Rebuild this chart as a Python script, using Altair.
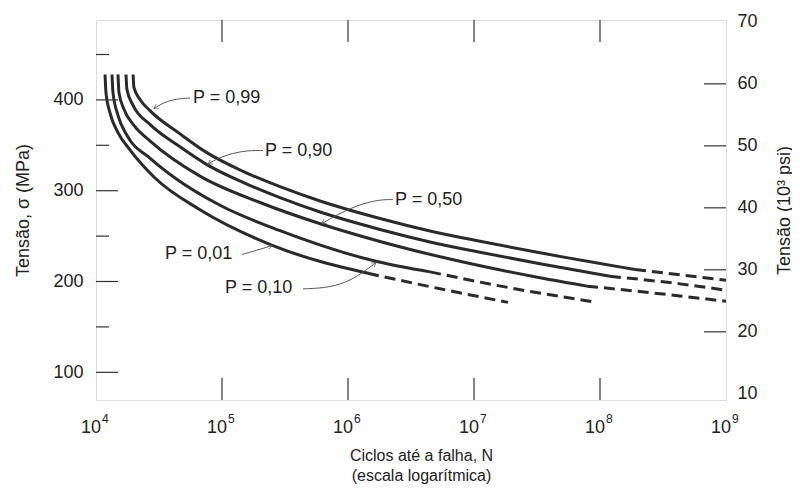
import altair as alt
import pandas as pd

FONT = "Liberation Sans, Arial, Helvetica, sans-serif"
W, H = 630, 380

# ---- S-N curves (N cycles, stress MPa); dash_k = index where dashed part starts
curve_names = ["P = 0,01", "P = 0,10", "P = 0,50", "P = 0,90", "P = 0,99"]

N_p01 = [11800, 12000, 12900, 14950, 18600, 29400, 66900, 254000, 1441000, 5370000, 18600000]
S_p01 = [428, 408, 386, 364, 345, 314, 279, 239.5, 209, 192, 177]

N_p10 = [13400, 13640, 14950, 17600, 26800, 42400, 96400, 288700, 1699000, 4476000, 19310000, 94670000]
S_p10 = [428, 408, 383, 361, 336, 314, 284, 256, 222, 210.6, 193, 177]

N_p50 = [14950, 15220, 16700, 20000, 26800, 66900, 200300, 610800, 1795000, 6448000, 33400000, 78850000, 431300000, 1e9]
S_p50 = [428, 408, 389.5, 372, 355, 316.1, 287.0, 263.3, 244.1, 224.7, 204.1, 194.9, 184.1, 178.2]

N_p90 = [17300, 17600, 19700, 26800, 46420, 74650, 146800, 288700, 599800, 1795000, 4476000, 11160000, 33400000, 120000000, 431300000, 1e9]
S_p90 = [428, 411.5, 394, 373, 348.3, 329.3, 309.1, 292.3, 276.5, 257.3, 243.6, 232.2, 219.5, 205.7, 197.4, 190.4]

N_p99 = [19700, 20000, 22350, 26800, 46420, 74650, 146800, 288700, 599800, 1795000, 4476000, 11160000, 33400000, 189600000, 431300000, 1e9]
S_p99 = [428, 413.7, 400.4, 388.2, 362.6, 342.5, 321.3, 304.4, 288.7, 269.4, 255.7, 244.3, 231.6, 213.2, 207.3, 201.4]

dash_k = [8, 9, 11, 13, 13]

# ---- axis tick values and labels
x_tick_vals = [1e4, 1e5, 1e6, 1e7, 1e8, 1e9]
x_tick_base = ["10", "10", "10", "10", "10", "10"]
x_tick_exp = ["4", "5", "6", "7", "8", "9"]
x_inner_ticks = [1e5, 1e6, 1e7, 1e8]
mpa_major = [100, 200, 300, 400]
mpa_minor = [150, 250, 350, 450]
ksi_labels = [10, 20, 30, 40, 50, 60, 70]
ksi_ticks = [20, 30, 40, 50, 60]

# ---- annotations
label_text = ["P = 0,99", "P = 0,90", "P = 0,50", "P = 0,01", "P = 0,10"]
label_N = [58900, 219500, 2360000, 35300, 105600]
label_S = [402, 344, 290, 230.5, 192.5]

lead_99_N = [55700, 43140, 34020, 28860]
lead_99_S = [402.1, 401.2, 396.9, 390.4]
lead_90_N = [211500, 160800, 120100, 92950, 77430]
lead_90_S = [344.2, 344.4, 341.2, 335.8, 329.3]
lead_50_N = [2276000, 1795000, 1245000, 864000, 621500]
lead_50_S = [290.2, 290.3, 285.0, 275.3, 263.8]
lead_01_N = [144100, 186100, 249400]
lead_01_S = [229.8, 234.1, 239.5]
lead_10_N = [439500, 656800, 946600, 1292000, 1668000]
lead_10_S = [191.9, 192.8, 198.1, 209.0, 221.0]
arrow_angle = [150, 149, 146, 343, 322]

# ---- build tables
rows = []
for name, Ns, Ss, k in zip(curve_names,
                           [N_p01, N_p10, N_p50, N_p90, N_p99],
                           [S_p01, S_p10, S_p50, S_p90, S_p99], dash_k):
    for i, (n, s) in enumerate(zip(Ns, Ss)):
        if i <= k:
            rows.append(dict(curve=name, seg="solid", i=i, N=n, S=s))
        if i >= k:
            rows.append(dict(curve=name, seg="dash", i=i, N=n, S=s))
curves = pd.DataFrame(rows)

lead_rows, tip_rows = [], []
leads = [(lead_99_N, lead_99_S), (lead_90_N, lead_90_S), (lead_50_N, lead_50_S),
         (lead_01_N, lead_01_S), (lead_10_N, lead_10_S)]
for lab, (Ns, Ss), ang in zip(label_text, leads, arrow_angle):
    for i, (n, s) in enumerate(zip(Ns, Ss)):
        lead_rows.append(dict(lab=lab, i=i, N=n, S=s))
    tip_rows.append(dict(lab=lab, N=Ns[-1], S=Ss[-1], ang=ang))
leaders = pd.DataFrame(lead_rows)
tips = pd.DataFrame(tip_rows)
labels = pd.DataFrame(dict(t=label_text, N=label_N, S=label_S))
xlab = pd.DataFrame(dict(v=x_tick_vals, b=x_tick_base, e=x_tick_exp))

xs = alt.Scale(type="log", domain=[1e4, 1e9], nice=False)
ys = alt.Scale(domain=[69.5, 488], nice=False, zero=False)
ks = alt.Scale(domain=[9.0, 70.3], nice=False, zero=False)

x_axis = alt.Axis(
    orient="bottom",
    values=x_tick_vals, ticks=False, tickSize=0, domain=False, grid=False, labels=False,
    title=["Ciclos até a falha, N", "(escala logarítmica)"],
    titleFont=FONT, titleFontSize=16, titleFontWeight="normal", titleColor="#222",
    titleX=325, titleY=47, titleAlign="center", titleBaseline="top", titleLineHeight=20,
)
left_axis = alt.Axis(
    orient="left", values=mpa_major, ticks=False, tickSize=0, domain=False, grid=False,
    labelFontSize=18, labelPadding=13, labelFont=FONT, labelColor="#222",
    title="Tensão, σ (MPa)", titleFont=FONT, titleFontSize=18, titleFontWeight="normal",
    titleColor="#222", titleAngle=270, titleX=-73, titleY=H / 2,
    titleAlign="center", titleBaseline="middle",
)
right_axis = alt.Axis(
    orient="right", values=ksi_labels, ticks=False, tickSize=0, domain=False, grid=False,
    labelFontSize=18, labelPadding=11, labelFont=FONT, labelColor="#222",
    title="Tensão (10³ psi)", titleFont=FONT, titleFontSize=18, titleFontWeight="normal",
    titleColor="#222", titleAngle=270, titleX=58, titleY=H / 2,
    titleAlign="center", titleBaseline="middle",
)

X = lambda f: alt.X(f, scale=xs, axis=x_axis)

LINE = "#2a2a2a"
solid = alt.Chart(curves).transform_filter(alt.datum.seg == "solid").mark_line(
    strokeWidth=3, color=LINE, interpolate="monotone"
).encode(
    x=X("N:Q"),
    y=alt.Y("S:Q", scale=ys, axis=left_axis),
    detail="curve:N", order="i:Q",
)
dashed = alt.Chart(curves).transform_filter(alt.datum.seg == "dash").mark_line(
    strokeWidth=3, color=LINE, strokeDash=[11, 6], interpolate="monotone"
).encode(
    x=X("N:Q"),
    y=alt.Y("S:Q", scale=ys, axis=None),
    detail="curve:N", order="i:Q",
)

TICK = "#333"
xt = pd.DataFrame(dict(v=x_inner_ticks))
bottom_ticks = alt.Chart(xt).mark_rule(color=TICK, strokeWidth=1.2).encode(
    x=X("v:Q"), y=alt.value(H), y2=alt.value(H - 22))
top_ticks = alt.Chart(xt).mark_rule(color=TICK, strokeWidth=1.2).encode(
    x=X("v:Q"), y=alt.value(0), y2=alt.value(22))
left_major = alt.Chart(pd.DataFrame(dict(v=mpa_major))).mark_rule(color=TICK, strokeWidth=1.2).encode(
    y=alt.Y("v:Q", scale=ys, axis=None), x=alt.value(0), x2=alt.value(22))
left_minor = alt.Chart(pd.DataFrame(dict(v=mpa_minor))).mark_rule(color=TICK, strokeWidth=1.2).encode(
    y=alt.Y("v:Q", scale=ys, axis=None), x=alt.value(0), x2=alt.value(13))
right_ticks = alt.Chart(pd.DataFrame(dict(v=ksi_ticks))).mark_rule(color=TICK, strokeWidth=1.2).encode(
    y=alt.Y("v:Q", scale=ks, axis=right_axis), x=alt.value(W), x2=alt.value(W - 22))

bases = alt.Chart(xlab).mark_text(
    align="right", baseline="top", dx=5, font=FONT, fontSize=18, color="#222"
).encode(x=X("v:Q"), y=alt.value(H + 19), text="b:N")
exponents = alt.Chart(xlab).mark_text(
    align="left", baseline="top", dx=6, font=FONT, fontSize=12, color="#222"
).encode(x=X("v:Q"), y=alt.value(H + 14), text="e:N")

lead = alt.Chart(leaders).mark_line(strokeWidth=1, color="#555", interpolate="basis").encode(
    x=X("N:Q"), y=alt.Y("S:Q", scale=ys, axis=None),
    detail="lab:N", order="i:Q")
heads = alt.Chart(tips).mark_point(
    shape="M-1,-0.6L0,0L-1,0.6", filled=False, stroke="#555", strokeWidth=1, size=70
).encode(
    x=X("N:Q"), y=alt.Y("S:Q", scale=ys, axis=None),
    angle=alt.Angle("ang:Q", scale=None))
texts = alt.Chart(labels).mark_text(
    align="left", baseline="middle", font=FONT, fontSize=18, color="#222"
).encode(
    x=X("N:Q"), y=alt.Y("S:Q", scale=ys, axis=None), text="t:N")

chart = alt.layer(
    solid, right_ticks, dashed, bottom_ticks, top_ticks, left_major, left_minor,
    bases, exponents, lead, heads, texts
).resolve_scale(y="independent").properties(
    width=W, height=H,
    autosize=alt.AutoSizeParams(type="none"),
    padding={"left": 88, "top": 12, "right": 66, "bottom": 86},
).configure_view(stroke="#111", strokeWidth=2).configure(background="white")

chart.save("out.html", embed_options={"renderer": "svg", "actions": False})
